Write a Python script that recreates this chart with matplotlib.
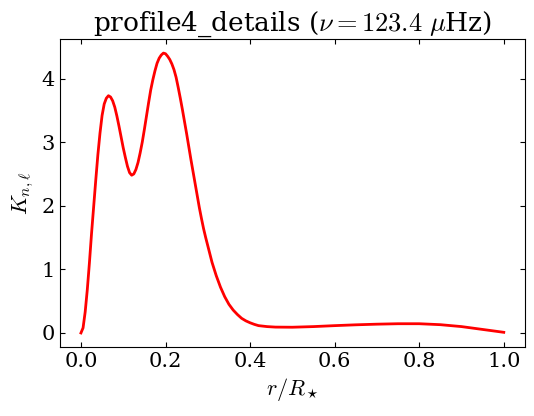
import numpy as np
import matplotlib.pyplot as plt

# kernel profile
r = [0.0, 0.005, 0.01, 0.015, 0.02, 0.025, 0.03, 0.035, 0.04, 0.045,
     0.05, 0.055, 0.06, 0.065, 0.07, 0.075, 0.08, 0.085, 0.09, 0.095,
     0.10, 0.105, 0.11, 0.115, 0.12, 0.125, 0.13, 0.135, 0.14, 0.145,
     0.15, 0.155, 0.16, 0.165, 0.17, 0.175, 0.18, 0.185, 0.19, 0.195,
     0.20, 0.205, 0.21, 0.215, 0.22, 0.225, 0.23, 0.235, 0.24, 0.245,
     0.25, 0.255, 0.26, 0.265, 0.27, 0.275, 0.28, 0.285, 0.29, 0.295,
     0.30, 0.31, 0.32, 0.33, 0.34, 0.35, 0.36, 0.37, 0.38, 0.39,
     0.40, 0.41, 0.42, 0.44, 0.46, 0.50, 0.55, 0.60, 0.65, 0.70,
     0.75, 0.80, 0.85, 0.90, 0.95, 1.0]
K = [0.0, 0.08, 0.33, 0.68, 1.10, 1.56, 1.98, 2.40, 2.80, 3.14,
     3.42, 3.60, 3.69, 3.73, 3.71, 3.65, 3.55, 3.41, 3.25, 3.08,
     2.91, 2.76, 2.62, 2.52, 2.48, 2.50, 2.57, 2.68, 2.83, 3.00,
     3.20, 3.41, 3.62, 3.82, 3.98, 4.12, 4.24, 4.32, 4.37, 4.40,
     4.39, 4.35, 4.30, 4.23, 4.14, 4.02, 3.86, 3.69, 3.51, 3.32,
     3.13, 2.93, 2.73, 2.54, 2.35, 2.16, 1.97, 1.80, 1.64, 1.50,
     1.37, 1.11, 0.90, 0.72, 0.57, 0.45, 0.36, 0.29, 0.23, 0.19,
     0.16, 0.135, 0.115, 0.10, 0.092, 0.09, 0.10, 0.115, 0.128, 0.138,
     0.145, 0.145, 0.13, 0.10, 0.055, 0.01]

plt.rcParams['font.family'] = 'DejaVu Serif'
plt.rcParams['mathtext.fontset'] = 'cm'

fig, ax = plt.subplots(figsize=(5.34, 4.16), dpi=100)
fig.subplots_adjust(left=0.112, right=0.983, bottom=0.166, top=0.906)
ax.plot(r, K, color='red', lw=2)
ax.tick_params(direction='in', top=True, right=True, labelsize=15)
ax.set_xlabel(r'$r/R_\star$', fontsize=16)
ax.set_ylabel(r'$K_{n,\ell}$', fontsize=16)
ax.set_title(r'profile4_details ($\nu = 123.4\ \mu$Hz)', fontsize=19)
fig.savefig('out.png', dpi=100)
